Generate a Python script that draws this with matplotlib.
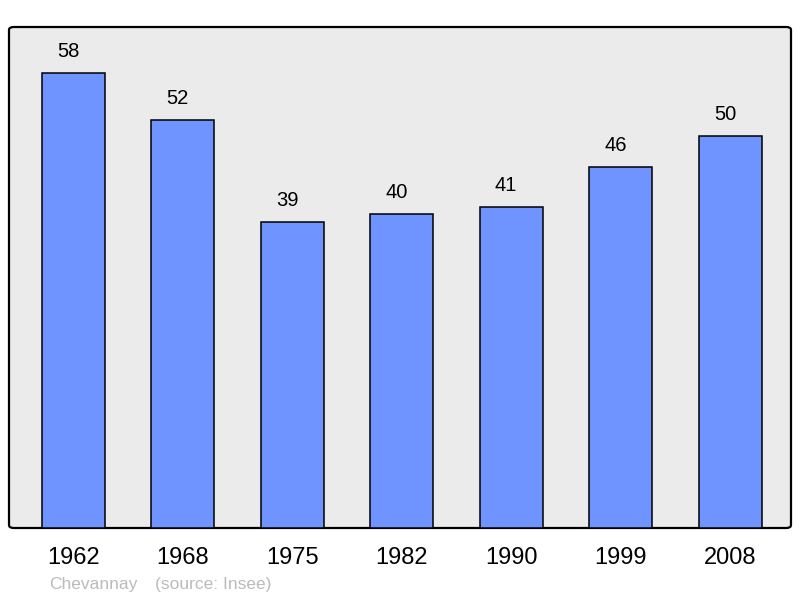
import matplotlib.pyplot as plt
from matplotlib.patches import FancyBboxPatch

plt.rcParams['font.family'] = ['Liberation Sans', 'DejaVu Sans']

years = ['1962', '1968', '1975', '1982', '1990', '1999', '2008']
population = [58, 52, 39, 40, 41, 46, 50]
commune = 'Chevannay'
source = '(source: Insee)'

W, H = 800, 598
fig = plt.figure(figsize=(W / 100, H / 100), dpi=100)
ax = fig.add_axes([9 / W, (H - 528) / H, (791 - 9) / W, (528 - 27) / H])
ax.set_facecolor('none')

# rounded grey frame behind the axes
frame = FancyBboxPatch((0, 0), 1, 1, boxstyle='round,pad=0,rounding_size=0.006',
                       transform=ax.transAxes, facecolor='#ebebeb', edgecolor='black',
                       linewidth=1.6, zorder=0, clip_on=False)
ax.add_patch(frame)

x = range(len(years))
bars = ax.bar(x, population, width=0.575, color='#7094ff', edgecolor='black',
              linewidth=1.1, zorder=2)
for xi, v in zip(x, population):
    ax.annotate(str(v), (xi, v), xytext=(-3.6, 15.5), textcoords='offset points',
                ha='center', va='center', fontsize=14.5, color='black')

ax.set_xlim(-0.585, 6.555)
ax.set_ylim(0, 63.9)
ax.set_xticks(list(x))
ax.set_xticklabels(years, fontsize=17)
ax.tick_params(axis='x', length=0, pad=14)
ax.set_yticks([])
for s in ax.spines.values():
    s.set_visible(False)

fig.text(49 / W, 1 - 584 / H, commune, color='#bbbbbb', fontsize=12.5, va='center')
fig.text(155 / W, 1 - 584 / H, source, color='#bbbbbb', fontsize=12.5, va='center')

fig.savefig('out.png', dpi=100)
